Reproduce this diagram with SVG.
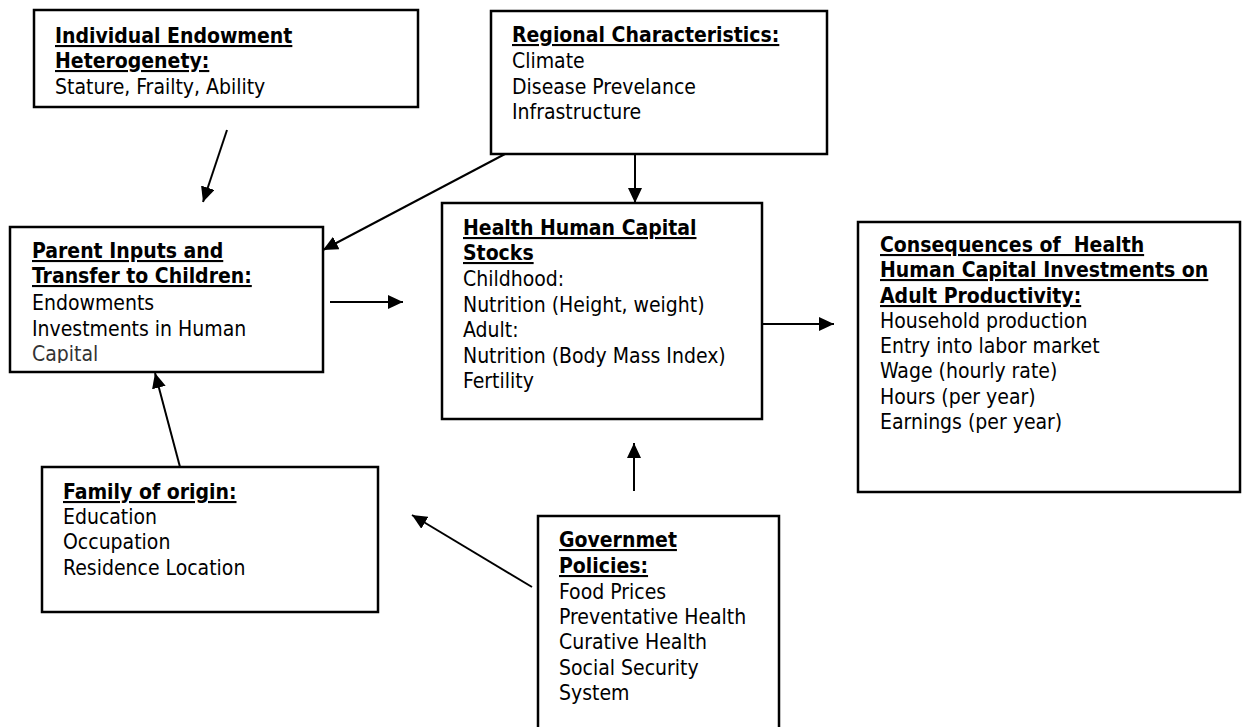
<svg xmlns="http://www.w3.org/2000/svg" width="1248" height="727" viewBox="0 0 1248 727">
<style>
.box{fill:#fff;stroke:#000;stroke-width:2.5}
text{font-family:'DejaVu Sans Condensed','DejaVu Sans',sans-serif;font-stretch:condensed;font-size:21px;fill:#000}
.t{font-weight:bold;text-decoration:underline}
.c{stroke:#000;stroke-width:2;fill:none}
</style>
<defs>
<marker id="ah" markerUnits="userSpaceOnUse" markerWidth="16" markerHeight="14" refX="15" refY="7" orient="auto"><path d="M0,0 L15,7 L0,14 z" fill="#000"/></marker>
<clipPath id="clipP"><rect x="10" y="227" width="313" height="136"/></clipPath>
</defs>
<rect width="1248" height="727" fill="#fff"/>
<g id="individual">
<rect class="box" x="34" y="10" width="384" height="97"/>
<text x="55" y="43" class="t">Individual Endowment</text>
<text x="55" y="68" class="t">Heterogenety:</text>
<text x="55" y="94">Stature, Frailty, Ability</text>
</g>
<g id="regional">
<rect class="box" x="491" y="11" width="336" height="143"/>
<text x="512" y="42" class="t">Regional Characteristics:</text>
<text x="512" y="68">Climate</text>
<text x="512" y="94">Disease Prevelance</text>
<text x="512" y="119">Infrastructure</text>
</g>
<g id="parent">
<rect class="box" x="10" y="227" width="313" height="145"/>
<text x="32" y="258" class="t">Parent Inputs and</text>
<text x="32" y="283" class="t">Transfer to Children:</text>
<text x="32" y="310">Endowments</text>
<text x="32" y="336">Investments in Human</text>
<text x="32" y="361" clip-path="url(#clipP)" style="fill:#333">Capital</text>
</g>
<g id="health">
<rect class="box" x="442" y="203" width="320" height="216"/>
<text x="463" y="235" class="t">Health Human Capital</text>
<text x="463" y="260" class="t">Stocks</text>
<text x="463" y="286">Childhood:</text>
<text x="463" y="312">Nutrition (Height, weight)</text>
<text x="463" y="337">Adult:</text>
<text x="463" y="363">Nutrition (Body Mass Index)</text>
<text x="463" y="388">Fertility</text>
</g>
<g id="consequences">
<rect class="box" x="858" y="222" width="382" height="270"/>
<text x="880" y="252" class="t" style="white-space:pre">Consequences of  Health</text>
<text x="880" y="277" class="t">Human Capital Investments on</text>
<text x="880" y="303" class="t">Adult Productivity:</text>
<text x="880" y="328">Household production</text>
<text x="880" y="353">Entry into labor market</text>
<text x="880" y="378">Wage (hourly rate)</text>
<text x="880" y="404">Hours (per year)</text>
<text x="880" y="429">Earnings (per year)</text>
</g>
<g id="family">
<rect class="box" x="42" y="467" width="336" height="145"/>
<text x="63" y="499" class="t">Family of origin:</text>
<text x="63" y="524">Education</text>
<text x="63" y="549">Occupation</text>
<text x="63" y="575">Residence Location</text>
</g>
<g id="government">
<rect class="box" x="538" y="516" width="241" height="230"/>
<text x="559" y="547" class="t">Governmet</text>
<text x="559" y="573" class="t">Policies:</text>
<text x="559" y="599">Food Prices</text>
<text x="559" y="624">Preventative Health</text>
<text x="559" y="649">Curative Health</text>
<text x="559" y="675">Social Security</text>
<text x="559" y="700">System</text>
</g>
<g id="connectors">
<line class="c" x1="227" y1="130" x2="203" y2="202" marker-end="url(#ah)"/>
<line class="c" x1="505" y1="154" x2="323" y2="250" marker-end="url(#ah)"/>
<line class="c" x1="635" y1="154" x2="635" y2="203" marker-end="url(#ah)"/>
<line class="c" x1="330" y1="302" x2="403" y2="302" marker-end="url(#ah)"/>
<line class="c" x1="762" y1="324" x2="834" y2="324" marker-end="url(#ah)"/>
<line class="c" x1="180" y1="467" x2="155" y2="373" marker-end="url(#ah)"/>
<line class="c" x1="634" y1="491" x2="634" y2="443" marker-end="url(#ah)"/>
<line class="c" x1="532" y1="587" x2="412" y2="515" marker-end="url(#ah)"/>
</g>
</svg>
